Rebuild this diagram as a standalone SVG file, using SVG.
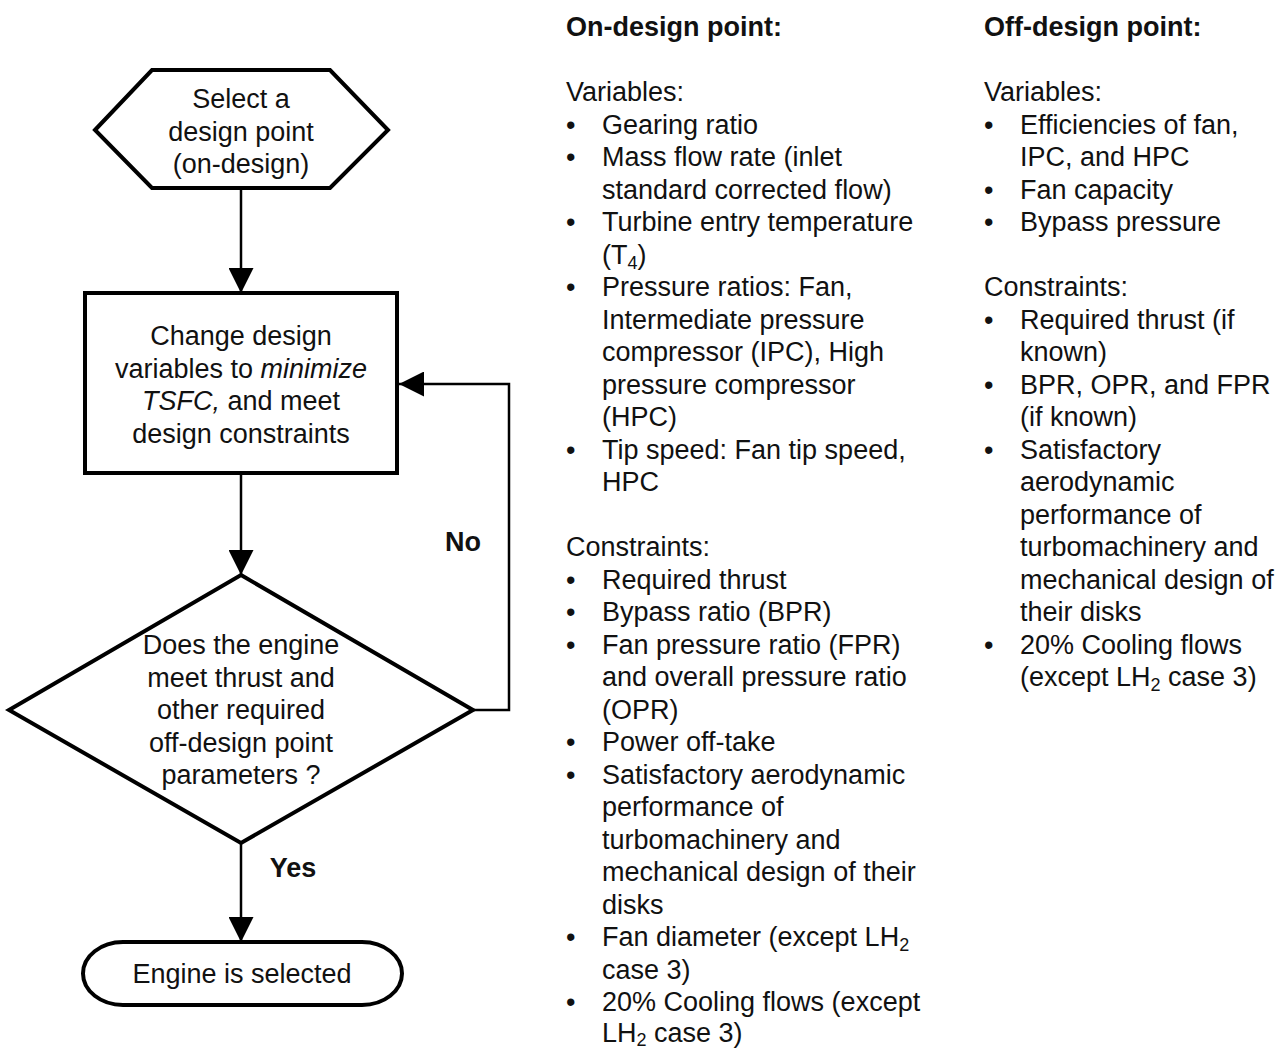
<svg xmlns="http://www.w3.org/2000/svg" width="1285" height="1050" viewBox="0 0 1285 1050">
<style>
text{font-family:"Liberation Sans",Arial,sans-serif;font-size:27px;fill:#111}
.c{text-anchor:middle}
.b{font-weight:bold}
.node{fill:#fff;stroke:#000;stroke-width:4;stroke-linejoin:miter}
.conn{fill:none;stroke:#000;stroke-width:2.5}
.sub{font-size:18px}
</style>
<defs>
<marker id="ah" markerUnits="userSpaceOnUse" viewBox="0 0 25 25" refX="25" refY="12.5" markerWidth="25" markerHeight="25" orient="auto">
<path d="M0,0 L25,12.5 L0,25 z" fill="#000"/>
</marker>
</defs>
<rect width="1285" height="1050" fill="#fff"/>
<g id="connectors">
<line class="conn" x1="241" y1="188" x2="241" y2="293" marker-end="url(#ah)"/>
<line class="conn" x1="241" y1="473" x2="241" y2="575" marker-end="url(#ah)"/>
<line class="conn" x1="241" y1="843" x2="241" y2="942" marker-end="url(#ah)"/>
<polyline class="conn" points="473,710 509,710 509,384 399,384" marker-end="url(#ah)"/>
<text class="c b" x="463" y="551">No</text>
<text class="c b" x="293" y="877">Yes</text>
</g>
<g id="start">
<polygon class="node" points="95,130 152,70 330,70 388,130 330,188 152,188"/>
<text class="c" x="241" y="108">Select a</text>
<text class="c" x="241" y="140.5">design point</text>
<text class="c" x="241" y="173">(on-design)</text>
</g>
<g id="change">
<rect class="node" x="85" y="293" width="312" height="180"/>
<text class="c" x="241" y="345">Change design</text>
<text class="c" x="241" y="377.5">variables to <tspan font-style="italic">minimize</tspan></text>
<text class="c" x="241" y="410"><tspan font-style="italic">TSFC,</tspan> and meet</text>
<text class="c" x="241" y="442.5">design constraints</text>
</g>
<g id="decision">
<polygon class="node" points="241,575 473,710 241,843 9,710"/>
<text class="c" x="241" y="654">Does the engine</text>
<text class="c" x="241" y="686.5">meet thrust and</text>
<text class="c" x="241" y="719">other required</text>
<text class="c" x="241" y="751.5">off-design point</text>
<text class="c" x="241" y="784">parameters ?</text>
</g>
<g id="end">
<rect class="node" x="83" y="942" width="319" height="63" rx="40" ry="31.5"/>
<text class="c" x="242" y="983">Engine is selected</text>
</g>
<g id="on-design">
<text class="b" x="566" y="36">On-design point:</text>
<text x="566" y="101">Variables:</text>
<text x="566" y="133.5">•</text><text x="602" y="133.5">Gearing ratio</text>
<text x="566" y="166">•</text><text x="602" y="166">Mass flow rate (inlet</text>
<text x="602" y="198.5">standard corrected flow)</text>
<text x="566" y="231">•</text><text x="602" y="231">Turbine entry temperature</text>
<text x="602" y="263.5">(T<tspan class="sub" dy="5">4</tspan><tspan dy="-5">)</tspan></text>
<text x="566" y="296">•</text><text x="602" y="296">Pressure ratios: Fan,</text>
<text x="602" y="328.5">Intermediate pressure</text>
<text x="602" y="361">compressor (IPC), High</text>
<text x="602" y="393.5">pressure compressor</text>
<text x="602" y="426">(HPC)</text>
<text x="566" y="458.5">•</text><text x="602" y="458.5">Tip speed: Fan tip speed,</text>
<text x="602" y="491">HPC</text>
<text x="566" y="556">Constraints:</text>
<text x="566" y="588.5">•</text><text x="602" y="588.5">Required thrust</text>
<text x="566" y="621">•</text><text x="602" y="621">Bypass ratio (BPR)</text>
<text x="566" y="653.5">•</text><text x="602" y="653.5">Fan pressure ratio (FPR)</text>
<text x="602" y="686">and overall pressure ratio</text>
<text x="602" y="718.5">(OPR)</text>
<text x="566" y="751">•</text><text x="602" y="751">Power off-take</text>
<text x="566" y="783.5">•</text><text x="602" y="783.5">Satisfactory aerodynamic</text>
<text x="602" y="816">performance of</text>
<text x="602" y="848.5">turbomachinery and</text>
<text x="602" y="881">mechanical design of their</text>
<text x="602" y="913.5">disks</text>
<text x="566" y="946">•</text><text x="602" y="946">Fan diameter (except LH<tspan class="sub" dy="5">2</tspan></text>
<text x="602" y="978.5">case 3)</text>
<text x="566" y="1011">•</text><text x="602" y="1011">20% Cooling flows (except</text>
<text x="602" y="1042">LH<tspan class="sub" dy="4">2</tspan><tspan dy="-4"> case 3)</tspan></text>
</g>
<g id="off-design">
<text class="b" x="984" y="36">Off-design point:</text>
<text x="984" y="101">Variables:</text>
<text x="984" y="133.5">•</text><text x="1020" y="133.5">Efficiencies of fan,</text>
<text x="1020" y="166">IPC, and HPC</text>
<text x="984" y="198.5">•</text><text x="1020" y="198.5">Fan capacity</text>
<text x="984" y="231">•</text><text x="1020" y="231">Bypass pressure</text>
<text x="984" y="296">Constraints:</text>
<text x="984" y="328.5">•</text><text x="1020" y="328.5">Required thrust (if</text>
<text x="1020" y="361">known)</text>
<text x="984" y="393.5">•</text><text x="1020" y="393.5">BPR, OPR, and FPR</text>
<text x="1020" y="426">(if known)</text>
<text x="984" y="458.5">•</text><text x="1020" y="458.5">Satisfactory</text>
<text x="1020" y="491">aerodynamic</text>
<text x="1020" y="523.5">performance of</text>
<text x="1020" y="556">turbomachinery and</text>
<text x="1020" y="588.5">mechanical design of</text>
<text x="1020" y="621">their disks</text>
<text x="984" y="653.5">•</text><text x="1020" y="653.5">20% Cooling flows</text>
<text x="1020" y="686">(except LH<tspan class="sub" dy="5">2</tspan><tspan dy="-5"> case 3)</tspan></text>
</g>
</svg>
